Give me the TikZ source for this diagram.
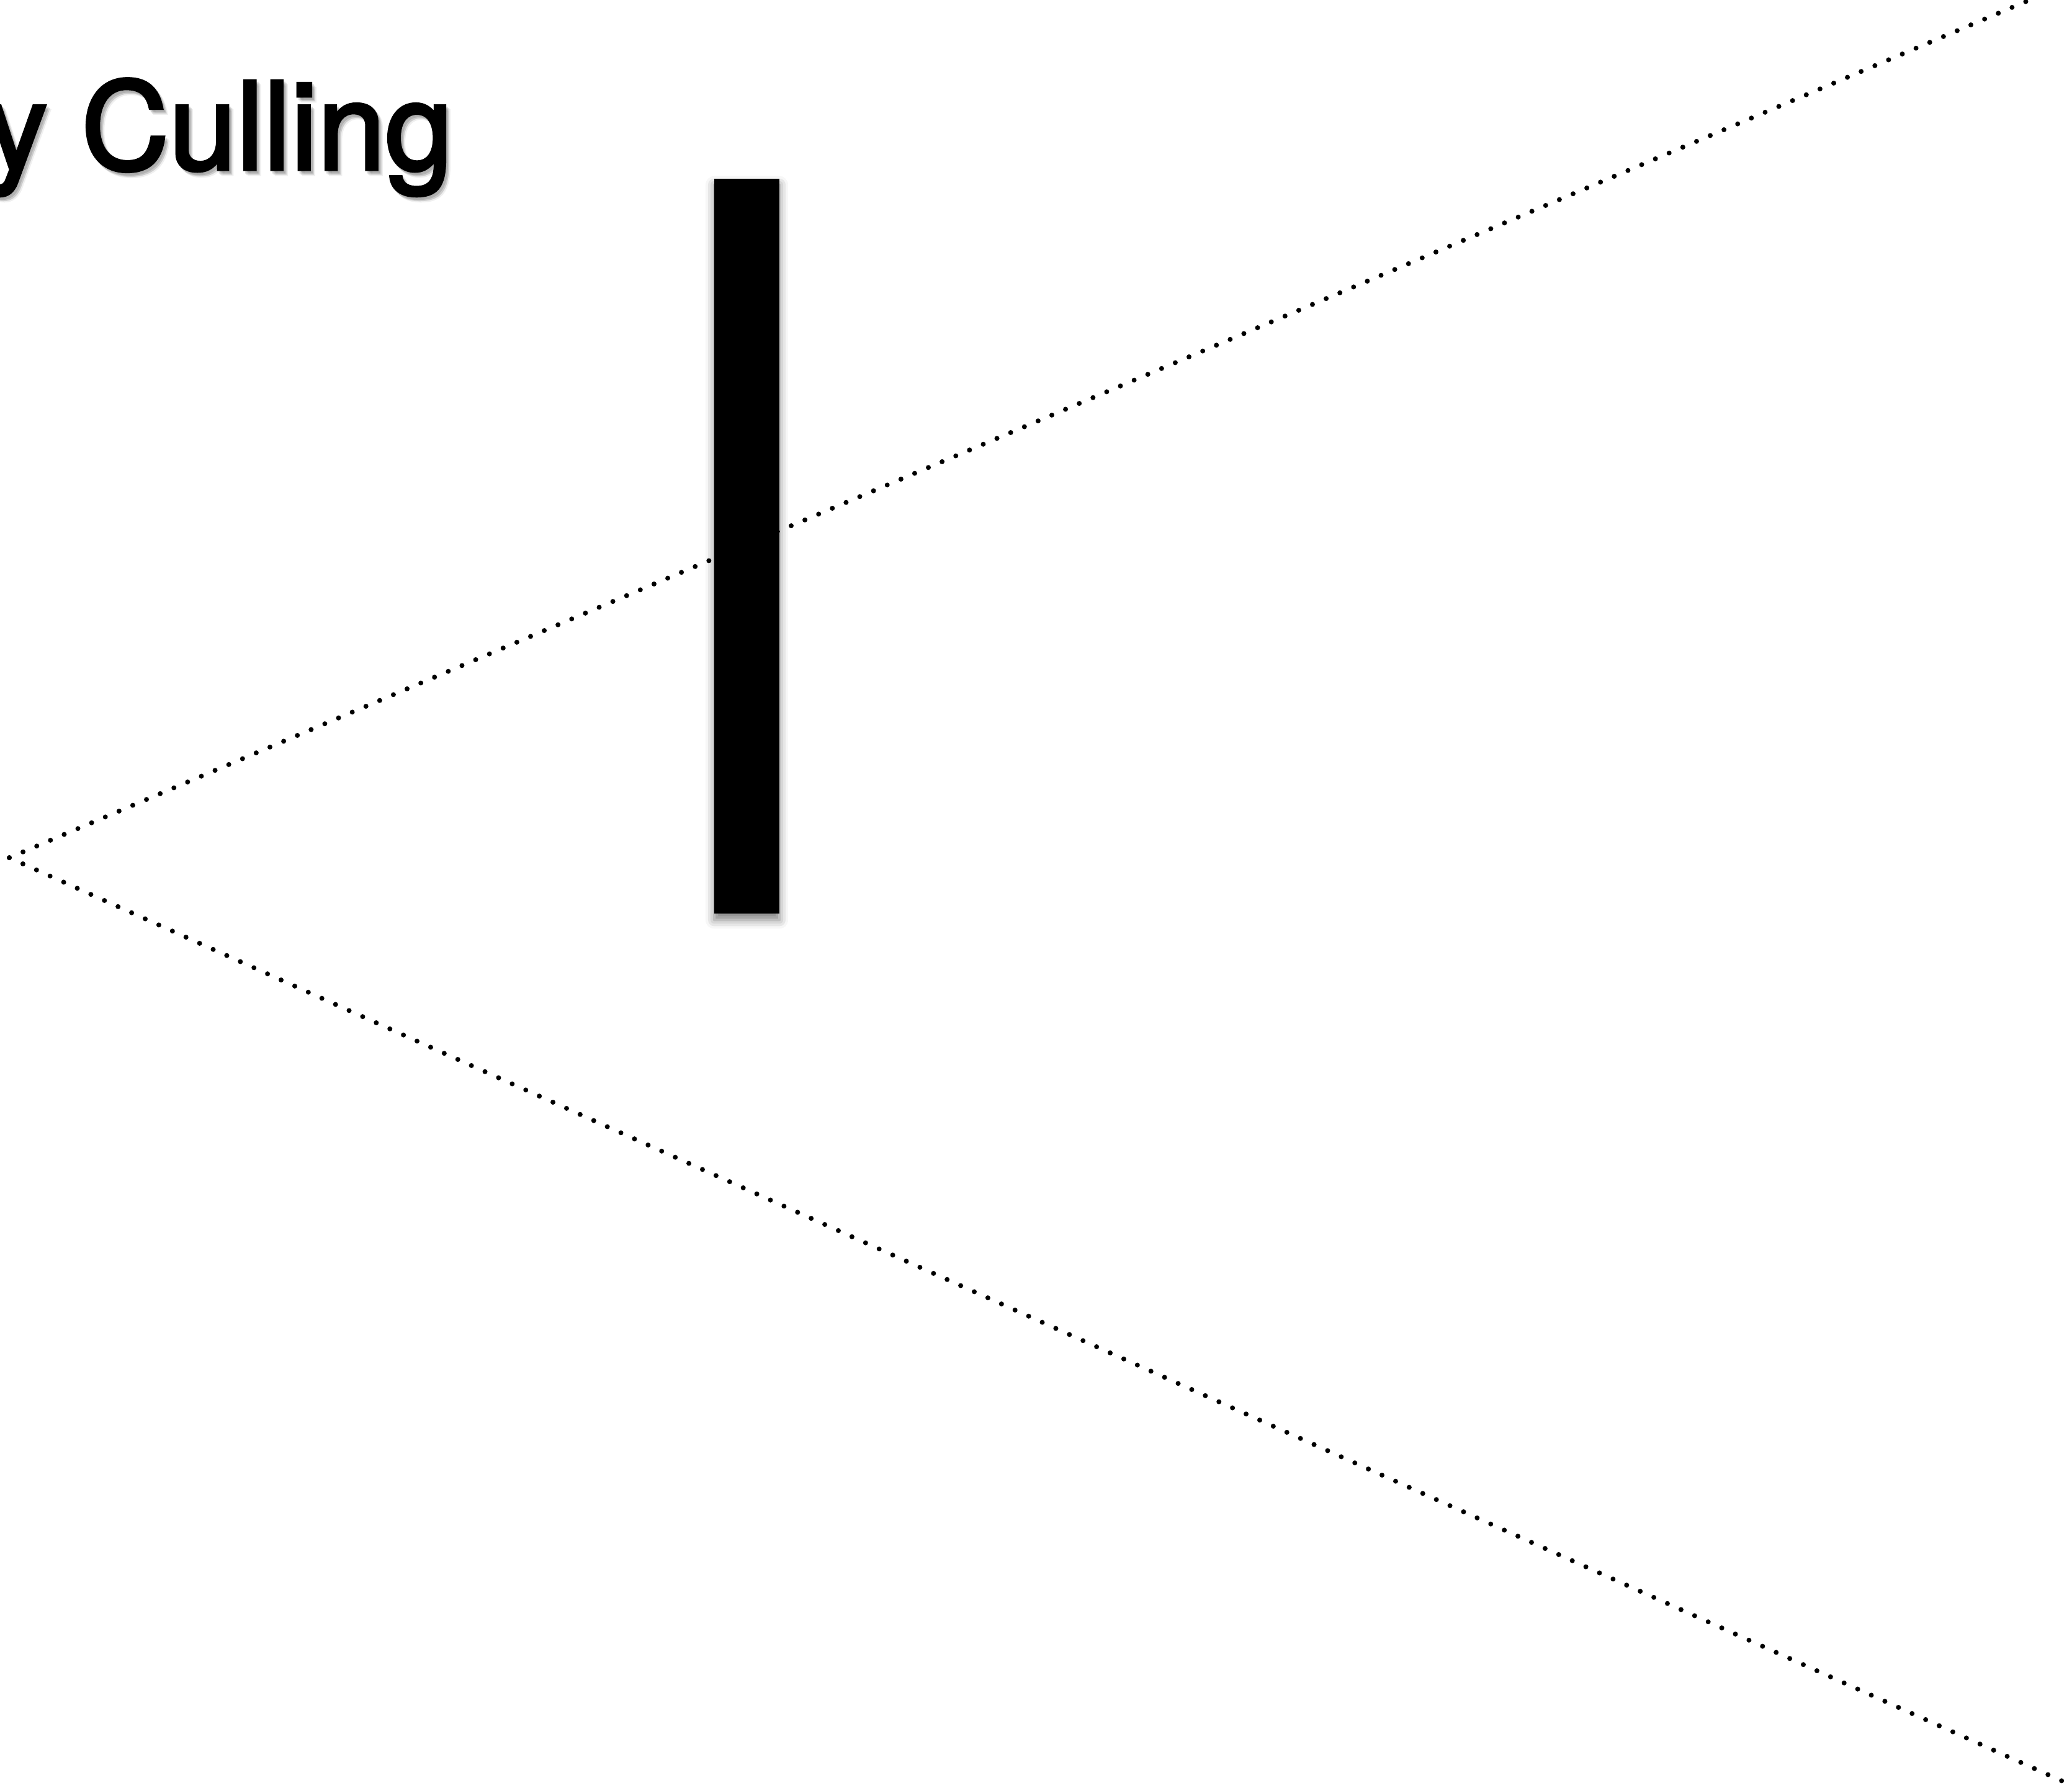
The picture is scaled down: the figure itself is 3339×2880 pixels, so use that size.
\documentclass[tikz,border=0pt]{standalone}
\usepackage{fontspec}
\usepackage{tikz}
\usetikzlibrary{positioning,shadows.blur}
\newfontfamily\titlefont[FakeBold=2.6]{TeX Gyre Heros}
\definecolor{ink}{HTML}{000000}
\definecolor{haze}{HTML}{7A7A7A}
\tikzset{ray/.style={draw=ink,line width=0.08cm,line cap=round,dash pattern=on 0pt off 0.24cm},occluder/.style={fill=ink,draw=none,minimum width=1.05cm,minimum height=11.84cm,inner sep=0pt,blur shadow={shadow xshift=0pt,shadow yshift=-0.1cm,shadow blur radius=0.14cm,shadow opacity=50}},heading/.style={anchor=base west,inner sep=0pt,font=\titlefont\fontsize{55.7}{60}\selectfont}}

\begin{document}
\begin{tikzpicture}[x=0.01cm,y=-0.01cm]
\useasboundingbox (0,0) rectangle (3339,2880);
\coordinate (eye) at (15,1382);
\coordinate (topend) at (3294,-10);
\coordinate (botend) at (3346,2880);
\foreach \dx/\dy/\op in {3/4/0.25,5/6/0.2,7/8/0.12}
  \node[heading,text=haze,opacity=\op] at (-22+\dx,273+\dy) {y Culling};
\node[heading,text=ink] (title) at (-22,273) {y Culling};
\draw[ray] (eye)--(topend);
\draw[ray] (eye)--(botend);
\node[occluder] (wall) at (1203.5,880) {};
\end{tikzpicture}
\end{document}
